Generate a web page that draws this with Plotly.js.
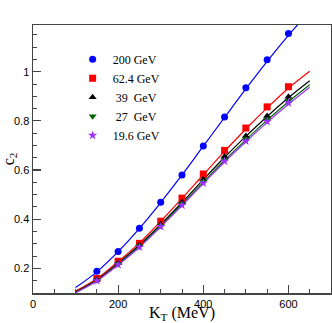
<!DOCTYPE html>
<html>
<head>
<meta charset="utf-8">
<script src="https://cdn.plot.ly/plotly-3.0.1.min.js"></script>
<style>
  html, body { margin: 0; padding: 0; background: #fff; }
  #chart { width: 332px; height: 323px; }
</style>
</head>
<body>
<div id="chart"></div>
<script>
// measured points (K_T in MeV)
const kt = [150, 200, 250, 300, 350, 400, 450, 500, 550, 600];
const v200 = [0.188, 0.269, 0.363, 0.469, 0.580, 0.698, 0.816, 0.935, 1.049, 1.155];
const v62 = [0.159, 0.229, 0.302, 0.392, 0.486, 0.584, 0.680, 0.771, 0.857, 0.939];
const v39 = [0.155, 0.222, 0.295, 0.380, 0.469, 0.563, 0.655, 0.739, 0.820, 0.898];
const v27 = [0.152, 0.218, 0.290, 0.374, 0.462, 0.553, 0.643, 0.726, 0.806, 0.882];
const v19 = [0.150, 0.215, 0.287, 0.370, 0.457, 0.547, 0.636, 0.718, 0.797, 0.873];

// model curves
const ktLine = [100, 150, 200, 250, 300, 350, 400, 450, 500, 550, 600, 650];
const c200 = [0.122, 0.186, 0.268, 0.363, 0.468, 0.580, 0.697, 0.814, 0.930, 1.042, 1.148, 1.245];
const c62 = [0.108, 0.158, 0.228, 0.304, 0.392, 0.485, 0.581, 0.676, 0.767, 0.853, 0.933, 1.002];
const c39 = [0.104, 0.154, 0.221, 0.295, 0.379, 0.468, 0.561, 0.652, 0.737, 0.818, 0.894, 0.963];
const c27 = [0.102, 0.151, 0.217, 0.290, 0.373, 0.461, 0.551, 0.640, 0.723, 0.803, 0.878, 0.947];
const c19 = [0.101, 0.149, 0.214, 0.286, 0.369, 0.456, 0.545, 0.633, 0.715, 0.794, 0.868, 0.937];

const series = [
  { name: "200 GeV", y: v200, curve: c200, color: "#0000ff", symbol: "circle", size: 7 },
  { name: "62.4 GeV", y: v62, curve: c62, color: "#ff0000", symbol: "square", size: 7 },
  { name: "&nbsp;39&nbsp; GeV", y: v39, curve: c39, color: "#000000", symbol: "triangle-up", size: 7 },
  { name: "&nbsp;27&nbsp; GeV", y: v27, curve: c27, color: "#006400", symbol: "triangle-down", size: 7 },
  { name: "19.6 GeV", y: v19, curve: c19, color: "#9b30ff", symbol: "star", size: 7 }
];

const traces = [];
// lines first, markers on top
series.forEach(s => {
  traces.push({
    type: "scatter", mode: "lines", x: ktLine, y: s.curve,
    line: { color: s.color, width: 1.2, shape: "spline", smoothing: 1 },
    showlegend: false, hoverinfo: "skip"
  });
});
series.forEach(s => {
  traces.push({
    type: "scatter", mode: "markers", x: kt, y: s.y, name: s.name,
    marker: { color: s.color, symbol: s.symbol, size: s.size }
  });
});

const axisCommon = {
  showline: true, mirror: true, linecolor: "#444", linewidth: 1.5,
  ticks: "inside", ticklen: 8, tickcolor: "#444", tickwidth: 1.2,
  showgrid: false, zeroline: false,
  tickfont: { family: "Liberation Sans, Arial, sans-serif", size: 11, color: "#000" }
};

const layout = {
  width: 332, height: 323,
  margin: { l: 33, r: 1, t: 25, b: 30 },
  paper_bgcolor: "#fff", plot_bgcolor: "#fff",
  showlegend: true,
  legend: {
    x: 0.133, y: 0.926, xanchor: "left", yanchor: "top",
    bgcolor: "rgba(0,0,0,0)",
    font: { family: "Liberation Serif, Times New Roman, serif", size: 12, color: "#000" }
  },
  xaxis: Object.assign({}, axisCommon, {
    range: [0, 700], dtick: 200, tick0: 0,
    minor: { dtick: 50, ticks: "inside", ticklen: 4, tickcolor: "#444", tickwidth: 1 },
    title: { text: "K<sub>T</sub> (MeV)", standoff: 2,
      font: { family: "Liberation Serif, Times New Roman, serif", size: 16, color: "#000" } }
  }),
  yaxis: Object.assign({}, axisCommon, {
    range: [0.1, 1.19], dtick: 0.2, tick0: 0,
    minor: { dtick: 0.05, ticks: "inside", ticklen: 4, tickcolor: "#444", tickwidth: 1 },
    title: { text: "c<sub>2</sub>", standoff: 2,
      font: { family: "Liberation Serif, Times New Roman, serif", size: 16, color: "#000" } }
  })
};

Plotly.newPlot("chart", traces, layout, { displayModeBar: false, staticPlot: true });
</script>
</body>
</html>
